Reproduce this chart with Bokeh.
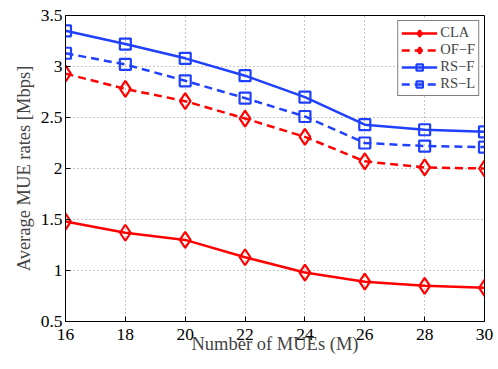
from bokeh.plotting import figure
from bokeh.models import Legend, LegendItem, FixedTicker
from bokeh.embed import file_html
from bokeh.resources import INLINE

M = [16, 18, 20, 22, 24, 26, 28, 30]
cla = [1.48, 1.37, 1.30, 1.13, 0.98, 0.89, 0.85, 0.83]
of_f = [2.93, 2.78, 2.66, 2.49, 2.31, 2.07, 2.01, 2.00]
rs_f = [3.35, 3.22, 3.08, 2.91, 2.70, 2.43, 2.38, 2.36]
rs_l = [3.13, 3.02, 2.86, 2.69, 2.51, 2.25, 2.22, 2.21]
yticks = [0.5, 1, 1.5, 2, 2.5, 3, 3.5]
xticks = M

FONT = "Liberation Serif"
RED = "#ff0000"
BLUE = "#2040ff"

p = figure(frame_width=419, frame_height=306, x_range=(16, 30), y_range=(0.5, 3.5),
           output_backend="svg", toolbar_location=None,
           min_border_left=65, min_border_top=15, min_border_right=12, min_border_bottom=46)
p.background_fill_color = "white"
p.outline_line_color = "black"
p.outline_line_width = 1

for ax in (p.xaxis[0], p.yaxis[0]):
    ax.major_label_text_font = FONT
    ax.major_label_text_font_size = "17.5px"
    ax.major_label_text_color = "black"
    ax.axis_line_color = "black"
    ax.major_tick_in = 5
    ax.major_tick_out = 0
    ax.minor_tick_line_color = None
    ax.major_tick_line_color = "black"
    ax.axis_label_text_font = FONT
    ax.axis_label_text_font_size = "18.5px"
    ax.axis_label_text_font_style = "normal"
p.xaxis[0].ticker = FixedTicker(ticks=xticks)
p.yaxis[0].ticker = FixedTicker(ticks=yticks)
p.xaxis[0].major_label_standoff = 7
p.yaxis[0].major_label_standoff = 3
p.yaxis[0].major_label_overrides = {v: ("%g" % v) for v in yticks}

p.yaxis[0].axis_label = "Average MUE rates [Mbps]"
p.yaxis[0].axis_label_standoff = 4
p.xaxis[0].axis_label = "Number of MUEs (M)"
p.xaxis[0].axis_label_standoff = -9

p.xgrid.ticker = FixedTicker(ticks=xticks)
p.ygrid.ticker = FixedTicker(ticks=yticks)
for g in (p.xgrid[0], p.ygrid[0]):
    g.grid_line_color = "#888888"
    g.grid_line_dash = "1 3"
    g.grid_line_width = 1

series = [("CLA", cla, RED, "solid", "diamond", 16),
          ("OF\u2212F", of_f, RED, "8 5", "diamond", 16),
          ("RS\u2212F", rs_f, BLUE, "solid", "square", 11),
          ("RS\u2212L", rs_l, BLUE, "8 5", "square", 11)]
items = []
for name, ys, col, dash, mk, sz in series:
    l = p.line(M, ys, line_color=col, line_width=2.5, line_dash=dash)
    s = p.scatter(M, ys, marker=mk, size=sz, line_color=col, line_width=2.2, fill_alpha=0)
    items.append(LegendItem(label=name, renderers=[l, s]))

leg = Legend(items=items, location="top_right")
leg.label_text_font = FONT
leg.label_text_font_size = "14.5px"
leg.border_line_color = "black"
leg.border_line_width = 1
leg.glyph_width = 36
leg.glyph_height = 16
leg.label_height = 16
leg.spacing = 0
leg.padding = 3
leg.margin = 5
leg.label_standoff = 3
p.add_layout(leg)

open("out.html", "w").write(file_html(p, INLINE))
